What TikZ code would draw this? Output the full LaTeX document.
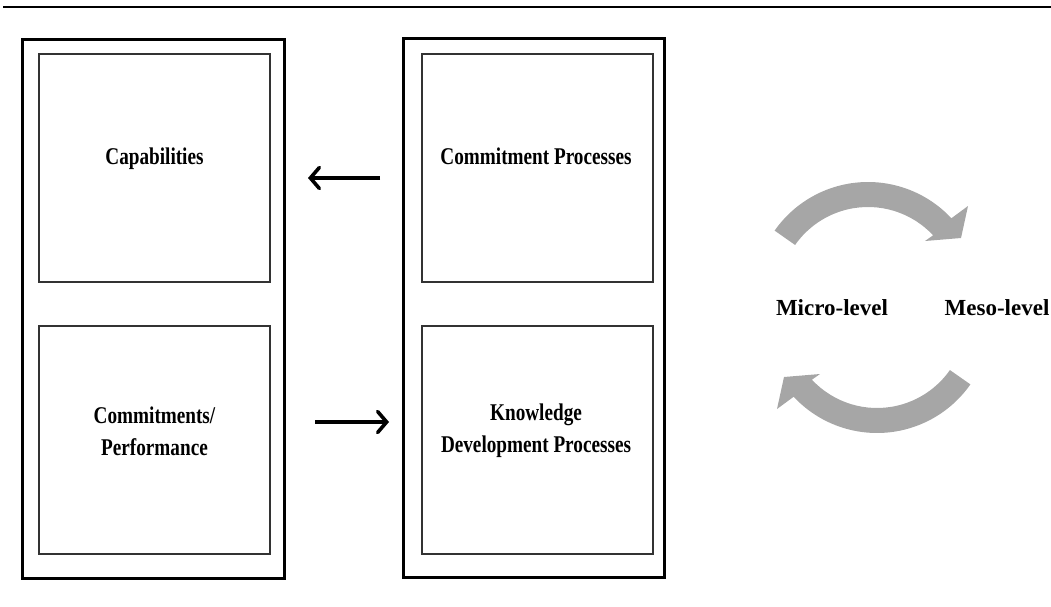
\documentclass[tikz,border=0pt]{standalone}
\usepackage{fontspec}
\setmainfont{Liberation Serif}
\newfontfamily\condfont[FakeStretch=0.8]{Liberation Serif Bold}
\usetikzlibrary{arrows.meta}
\definecolor{arrowgray}{HTML}{A6A6A6}
\definecolor{framegray}{HTML}{333333}
\tikzset{
  outerbox/.style={draw=black, line width=3pt, inner sep=0pt, minimum width=262pt, minimum height=538pt},
  innerbox/.style={draw=framegray, line width=1.1pt, inner sep=0pt, minimum width=231pt, minimum height=228pt},
  lbl/.style={font=\condfont\fontsize{24}{32}\selectfont, align=center, inner sep=0pt},
  lvl/.style={font=\bfseries\fontsize{23}{28}\selectfont, inner sep=0pt},
  flow/.style={line width=3.6pt, -{Straight Barb[length=9pt,width=21pt,line cap=round]}},
  turn/.pic={
    \fill[arrowgray] (145:114) arc[start angle=145, end angle=43, radius=114]
      -- (100,90) -- (93,58) -- (57,55) -- (43:89)
      arc[start angle=43, end angle=145, radius=89] -- cycle;
  }
}
\begin{document}
\begin{tikzpicture}[x=1pt, y=1pt]
\useasboundingbox (0,0) rectangle (1051,-607);
% rule across the top
\draw[line width=2pt] (3,-7) -- (1051,-7);
% the two columns
\node[outerbox] (lout) at (153,-309) {};
\node[outerbox, minimum width=261pt] (rout) at (533.5,-308) {};
\node[innerbox] (capab) at (154.5,-168) {};
\node[innerbox] (perf) at (154.5,-440) {};
\node[innerbox] (commit) at (537.5,-168) {};
\node[innerbox] (know) at (537.5,-440) {};
% labels
\node[lbl, anchor=base] (capabt) at (154.5,-164) {Capabilities};
\node[lbl] (perft) at (154.5,-431) {Commitments/\\Performance};
\node[lbl, anchor=base] (committ) at (536,-164) {Commitment Processes};
\node[lbl] (knowt) at (536,-431) {Knowledge\\Development Processes};
% links between the columns
\draw[flow, shorten <=21.5pt, shorten >=22.5pt]
  ([yshift=-10pt]commit.west -| rout.west) -- ([yshift=-10pt]capab.east -| lout.east);
\draw[flow, shorten <=29.5pt, shorten >=12.5pt]
  ([yshift=18pt]perf.east -| lout.east) -- ([yshift=18pt]know.west -| rout.west);
% levels and the cycle between them
\node[lvl] (micro) at (832,-308) {Micro-level};
\node[lvl] (meso) at (997,-308) {Meso-level};
\pic at (868,-296) {turn};
\pic[rotate=180] at (877,-319) {turn};
\end{tikzpicture}
\end{document}
